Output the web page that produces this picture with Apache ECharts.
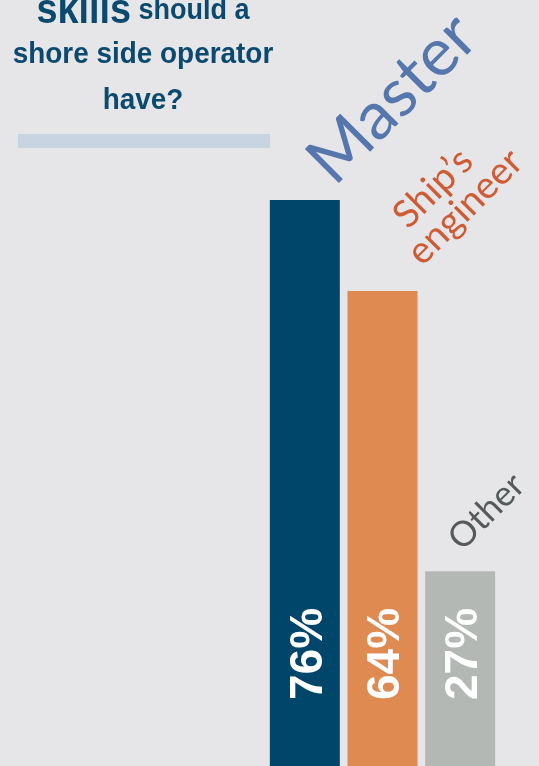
<!DOCTYPE html>
<html lang="en">
<head>
  <meta charset="UTF-8">
  <title>Skills of a shore side operator</title>
  <script src="https://cdn.jsdelivr.net/npm/echarts@6/dist/echarts.min.js"></script>
  <style>
    html, body { margin: 0; padding: 0; background: #e6e6e9; }
    #chart { width: 539px; height: 766px; }
  </style>
</head>
<body>
  <div id="chart"></div>
  <script>
    // data
    var categories = ['Master', 'Ship\u2019s\nengineer', 'Other'];
    var shares = [76, 64, 27];
    var barColors = ['#00456a', '#de8a50', '#b4b8b4'];
    var nameColors = ['#5677ad', '#cf5a33', '#555b5b'];

    var sans = '"Liberation Sans", Arial, sans-serif';
    var humanist = 'Lato, "Open Sans", sans-serif';

    // label tweaks per category (size + nudge, offset is in the rotated frame)
    var nameSizes = [67, 38, 35];
    var nameOffsets = [[30, 24], [45, 17], [15, -6]];

    var chart = echarts.init(document.getElementById('chart'));

    var titleFont = 'bold 30px ' + sans;

    var option = {
      backgroundColor: '#e6e6e9',
      animation: false,
      grid: { left: 266, right: 40, top: 18, bottom: 0 },
      xAxis: {
        type: 'category',
        data: categories,
        show: false
      },
      yAxis: {
        type: 'value',
        // zero sits a few px below the page edge
        min: 1.32,
        max: 100,
        show: false
      },
      graphic: [
        {
          type: 'text', x: 143, y: 11, scaleX: 0.9,
          style: {
            text: '{big|skills} should a',
            textAlign: 'center', textVerticalAlign: 'middle',
            font: titleFont, fill: '#0b4a6e',
            rich: { big: { font: 'bold 42px ' + sans, fill: '#0b4a6e', verticalAlign: 'bottom' } }
          }
        },
        {
          type: 'text', x: 143, y: 55, scaleX: 0.93,
          style: {
            text: 'shore side operator',
            textAlign: 'center', textVerticalAlign: 'middle',
            font: titleFont, fill: '#0b4a6e'
          }
        },
        {
          type: 'text', x: 143, y: 101, scaleX: 0.93,
          style: {
            text: 'have?',
            textAlign: 'center', textVerticalAlign: 'middle',
            font: titleFont, fill: '#0b4a6e'
          }
        },
        {
          type: 'rect',
          shape: { x: 18, y: 134, width: 252, height: 14 },
          style: { fill: '#c8d4e2' }
        }
      ],
      series: [
        {
          type: 'bar',
          barWidth: 70,
          data: shares.map(function (v, i) {
            return { value: v, itemStyle: { color: barColors[i] } };
          }),
          label: {
            show: true,
            position: 'insideBottom',
            distance: 66,
            rotate: 90,
            align: 'left',
            verticalAlign: 'middle',
            offset: [0, 4],
            formatter: '{c}%',
            fontFamily: sans,
            fontWeight: 'bold',
            fontSize: 46,
            color: '#ffffff'
          }
        },
        {
          // invisible twin bars carrying the category names
          type: 'bar',
          barWidth: 70,
          barGap: '-100%',
          silent: true,
          data: shares.map(function (v, i) {
            return {
              value: v,
              itemStyle: { color: 'rgba(0,0,0,0)' },
              label: {
                color: nameColors[i],
                fontSize: nameSizes[i],
                offset: nameOffsets[i],
                rich: {
                  top: { fontSize: nameSizes[i], lineHeight: 36, color: nameColors[i], padding: [0, 0, 0, 16] },
                  bot: { fontSize: nameSizes[i], lineHeight: 36, color: nameColors[i] }
                }
              }
            };
          }),
          label: {
            show: true,
            position: 'top',
            distance: 0,
            rotate: 45,
            align: 'left',
            verticalAlign: 'bottom',
            formatter: function (p) {
              var parts = p.name.split('\n');
              if (parts.length > 1) return '{top|' + parts[0] + '}\n{bot|' + parts[1] + '}';
              return p.name;
            },
            fontFamily: humanist,
            fontWeight: 'normal'
          }
        }
      ]
    };

    chart.setOption(option);
  </script>
</body>
</html>
